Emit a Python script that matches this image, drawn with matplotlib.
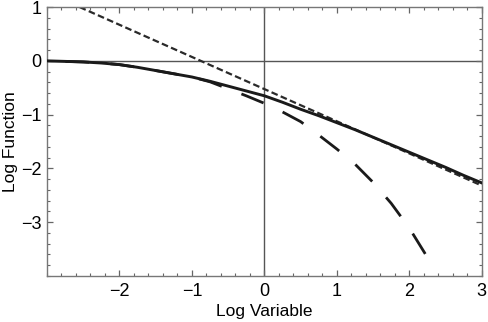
import matplotlib
matplotlib.use("Agg")
import matplotlib.pyplot as plt
from matplotlib.ticker import MultipleLocator

plt.rcParams["font.family"] = ["Liberation Sans", "DejaVu Sans"]

# values
x_solid = [-3.0, -2.75, -2.5, -2.25, -2.0, -1.75, -1.5, -1.25, -1.0, -0.75, -0.5, -0.25,
           0.0, 0.25, 0.5, 0.75, 1.0, 1.25, 1.5, 1.75, 2.0, 2.25, 2.5, 2.75, 3.0]
y_solid = [0.00, -0.01, -0.02, -0.04, -0.07, -0.12, -0.18, -0.24, -0.30, -0.38, -0.47, -0.56,
           -0.65, -0.77, -0.90, -1.02, -1.15, -1.28, -1.42, -1.56, -1.70, -1.84, -1.98, -2.13, -2.27]

x_cut = [-3.0, -2.75, -2.5, -2.25, -2.0, -1.75, -1.5, -1.25, -1.0, -0.75, -0.5, -0.25,
         0.0, 0.25, 0.5, 0.75, 1.0, 1.25, 1.5, 1.75, 2.0, 2.22]
y_cut = [0.00, -0.01, -0.02, -0.04, -0.07, -0.12, -0.18, -0.24, -0.30, -0.39, -0.52, -0.65,
         -0.79, -0.95, -1.13, -1.38, -1.64, -1.92, -2.26, -2.65, -3.11, -3.59]

x_asym = [-2.55, 3.0]
y_asym = [1.0, -2.32]

x_ticks = [-2, -1, 0, 1, 2, 3]
y_ticks = [-3, -2, -1, 0, 1]

fig = plt.figure(figsize=(4.88, 3.22), dpi=100)
ax = fig.add_axes([0.0963, 0.143, 0.891, 0.835])

ax.axhline(0, color="#555555", lw=1.0, zorder=1)
ax.axvline(0, color="#555555", lw=1.0, zorder=1)

# drawn from the right end so the dash pattern starts at the curve's tip
ax.plot(x_cut[::-1], y_cut[::-1], color="#1a1a1a", lw=2.0,
        linestyle=(0, (8.6, 7.6)), zorder=2)
ax.plot(x_asym, y_asym, color="#2a2a2a", lw=1.6, linestyle=(0, (3, 1.5)), zorder=2)
ax.plot(x_solid, y_solid, color="#1a1a1a", lw=2.1, zorder=3)

ax.set_xlim(-3, 3)
ax.set_ylim(-4, 1)
ax.set_xticks(x_ticks)
ax.set_yticks(y_ticks)
ax.set_xticklabels([str(v).replace("-", "\u2212") for v in x_ticks])
ax.set_yticklabels([str(v).replace("-", "\u2212") for v in y_ticks])
ax.xaxis.set_minor_locator(MultipleLocator(0.2))
ax.yaxis.set_minor_locator(MultipleLocator(0.2))
ax.tick_params(which="both", direction="in", top=True, right=True, color="#666666",
               labelsize=13, pad=5)
ax.tick_params(axis="y", which="both", pad=4)
ax.tick_params(which="major", length=4, width=0.9)
ax.tick_params(which="minor", length=2.5, width=0.8)

for sp in ax.spines.values():
    sp.set_color("#777777")
    sp.set_linewidth(1.0)

ax.set_xlabel("Log Variable", fontsize=12.5, labelpad=3)
fig.text(11 / 488, 0.56, "Log Function", fontsize=12.5, rotation=90,
         ha="center", va="center")

fig.savefig("out.png", dpi=100)
